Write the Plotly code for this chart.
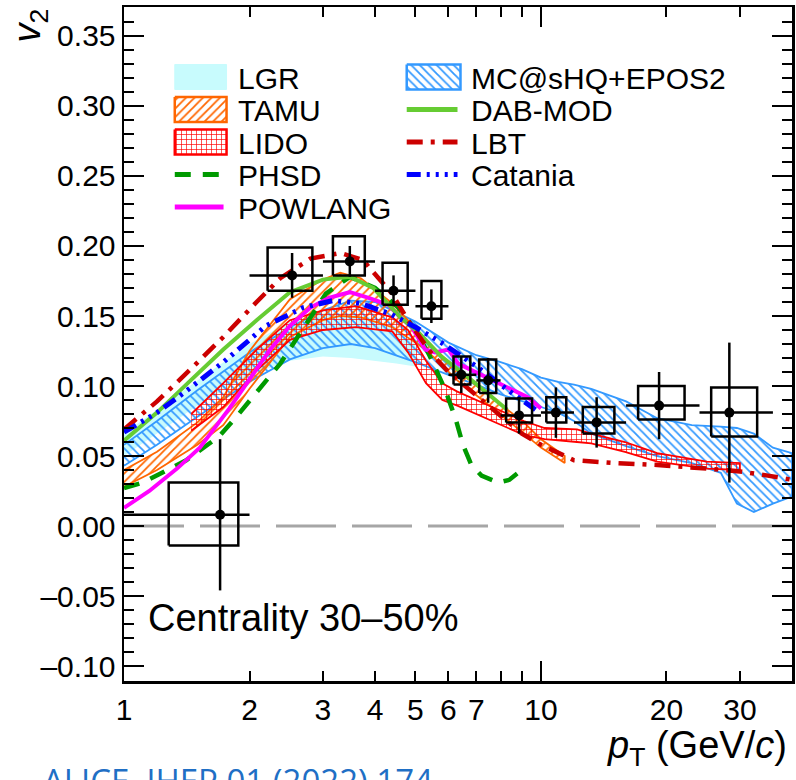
import math
import plotly.graph_objects as go

# ---------------- measured data: ALICE D0 v2, 30-50% ----------------
pt = [1.70, 2.53, 3.48, 4.43, 5.46, 6.44, 7.47, 8.86, 10.86, 13.6, 19.2, 28.3]
v2 = [0.008, 0.179, 0.189, 0.168, 0.157, 0.108, 0.104, 0.079, 0.081, 0.074, 0.086, 0.081]
pt_bin_lo = [1, 2, 3, 4, 5, 6, 7, 8, 10, 12, 16, 24]
pt_bin_hi = [2, 3, 4, 5, 6, 7, 8, 10, 12, 16, 24, 36]
stat_err = [0.054, 0.016, 0.011, 0.011, 0.012, 0.013, 0.016, 0.013, 0.018, 0.018, 0.024, 0.050]
syst_v2_lo = [-0.014, 0.168, 0.179, 0.158, 0.148, 0.101, 0.095, 0.074, 0.074, 0.066, 0.076, 0.064]
syst_v2_hi = [0.031, 0.199, 0.207, 0.188, 0.175, 0.121, 0.119, 0.091, 0.092, 0.085, 0.100, 0.099]
syst_pt_lo = [1.28, 2.21, 3.17, 4.17, 5.17, 6.17, 7.11, 8.25, 10.3, 12.6, 17.1, 25.6]
syst_pt_hi = [1.88, 2.83, 3.78, 4.79, 5.77, 6.77, 7.81, 9.52, 11.5, 15.0, 22.1, 33.0]

# ---------------- model bands ----------------
lgr_pt = [1.0, 1.2, 1.5, 2.0, 2.5, 3.0, 3.5, 4.0, 4.5, 5.0]
lgr_lo = [0.050, 0.066, 0.086, 0.108, 0.118, 0.121, 0.120, 0.118, 0.116, 0.114]
lgr_hi = [0.066, 0.083, 0.104, 0.130, 0.146, 0.152, 0.152, 0.148, 0.140, 0.130]

mcshq_pt = [1.0, 1.2, 1.5, 2.0, 2.5, 3.0, 3.5, 4.0, 5.0, 6.0, 7.0, 8.0, 9.0, 10.0, 11.0,
            12.0, 13.2, 16.0, 19.0, 23.0, 27.0, 29.5, 32.4, 36.0, 40.0]
mcshq_lo = [0.043, 0.058, 0.078, 0.103, 0.119, 0.127, 0.130, 0.127, 0.117, 0.108, 0.101,
            0.094, 0.089, 0.085, 0.081, 0.075, 0.066, 0.057, 0.050, 0.045, 0.038, 0.016,
            0.010, 0.016, 0.021]
mcshq_hi = [0.058, 0.075, 0.097, 0.124, 0.142, 0.154, 0.161, 0.160, 0.146, 0.131, 0.122,
            0.117, 0.112, 0.106, 0.103, 0.101, 0.098, 0.089, 0.077, 0.072, 0.071, 0.070,
            0.066, 0.056, 0.052]

tamu_pt = [1.0, 1.2, 1.5, 1.73, 2.0, 2.5, 3.0, 3.3, 3.7, 4.4, 5.3, 6.3, 7.6, 9.1, 10.0, 11.4]
tamu_lo = [0.028, 0.040, 0.058, 0.072, 0.098, 0.135, 0.147, 0.150, 0.149, 0.142, 0.126,
           0.104, 0.085, 0.066, 0.056, 0.045]
tamu_hi = [0.040, 0.053, 0.074, 0.092, 0.125, 0.162, 0.176, 0.181, 0.177, 0.159, 0.133,
           0.111, 0.092, 0.074, 0.062, 0.050]

lido_pt = [1.45, 1.73, 2.08, 2.5, 3.0, 3.6, 4.4, 4.8, 5.3, 5.8, 6.3, 7.6, 9.1, 10.2, 12.2,
           13.2, 15.9, 19.0, 25.0, 30.0]
lido_lo = [0.068, 0.085, 0.111, 0.133, 0.140, 0.142, 0.139, 0.124, 0.102, 0.090, 0.086,
           0.075, 0.065, 0.062, 0.060, 0.059, 0.053, 0.046, 0.041, 0.040]
lido_hi = [0.080, 0.102, 0.126, 0.147, 0.154, 0.157, 0.149, 0.140, 0.118, 0.102, 0.096,
           0.085, 0.075, 0.070, 0.069, 0.066, 0.060, 0.052, 0.046, 0.045]

# ---------------- model curves ----------------
phsd_pt = [1.0, 1.11, 1.41, 1.69, 1.86, 2.37, 2.8, 3.05, 3.48, 4.0, 4.55, 5.0, 5.4, 5.9,
           6.25, 6.5, 6.8, 7.2, 7.9, 8.4, 8.9]
phsd_v2 = [0.027, 0.031, 0.047, 0.064, 0.078, 0.116, 0.149, 0.166, 0.178, 0.170, 0.156,
           0.140, 0.122, 0.097, 0.076, 0.058, 0.044, 0.036, 0.031, 0.033, 0.039]

powlang_pt = [1.0, 1.15, 1.34, 1.52, 1.79, 2.0, 2.24, 2.5, 2.8, 3.1, 3.48, 3.86, 4.3, 4.6,
              4.9, 5.28, 5.57, 6.0, 6.33, 7.07, 8.34, 9.3, 10.0]
powlang_v2 = [0.013, 0.025, 0.041, 0.056, 0.084, 0.105, 0.126, 0.143, 0.156, 0.163, 0.167,
              0.163, 0.158, 0.149, 0.142, 0.126, 0.124, 0.126, 0.116, 0.109, 0.099, 0.092,
              0.084]

dabmod_pt = [1.0, 1.2, 1.445, 1.73, 2.08, 2.5, 3.0, 3.48, 3.96, 4.6, 5.09, 5.77, 6.7, 7.75, 8.3]
dabmod_v2 = [0.061, 0.081, 0.104, 0.126, 0.147, 0.167, 0.176, 0.178, 0.170, 0.149, 0.138,
             0.121, 0.106, 0.090, 0.083]

lbt_pt = [1.0, 1.2, 1.445, 1.73, 2.08, 2.37, 2.8, 3.3, 3.74, 4.39, 4.82, 5.5, 6.0, 7.0, 8.0,
          9.0, 10.0, 11.0, 12.0, 15.0, 19.0, 25.0, 30.0, 35.0, 40.0]
lbt_v2 = [0.069, 0.089, 0.112, 0.135, 0.160, 0.177, 0.191, 0.195, 0.190, 0.166, 0.146,
          0.122, 0.110, 0.093, 0.078, 0.066, 0.058, 0.052, 0.047, 0.045, 0.0436, 0.041,
          0.039, 0.036, 0.033]

catania_pt = [1.0, 1.2, 1.39, 1.73, 2.19, 2.69, 3.17, 3.7, 4.39, 5.0, 5.77, 7.0, 8.34, 9.7]
catania_v2 = [0.067, 0.081, 0.095, 0.117, 0.143, 0.156, 0.161, 0.159, 0.151, 0.142, 0.131,
              0.114, 0.097, 0.083]

# ---------------- styles ----------------
FONT = "Liberation Sans, Arial, Helvetica, sans-serif"
C_LGR = "#c8fbfd"
C_MC = "#3399ff"
C_TAMU = "#ff6600"
C_LIDO = "#ff0000"
C_PHSD = "#009a00"
C_POW = "#ff00ff"
C_DAB = "#66cc33"
C_LBT = "#cc0000"
C_CAT = "#0000ff"

D_PHSD = "16px,12px"
D_LBT = "16px,8px,4px,8px"
D_CAT = "14px,6px,3px,6px,3px,6px,3px,6px"

PAT_TAMU = dict(shape="/", fgcolor=C_TAMU, bgcolor="rgba(0,0,0,0)", size=6, solidity=0.3, fillmode="replace")
PAT_MC = dict(shape="\\", fgcolor=C_MC, bgcolor="rgba(0,0,0,0)", size=6, solidity=0.3, fillmode="replace")
PAT_LIDO = dict(shape="+", fgcolor=C_LIDO, bgcolor="rgba(0,0,0,0)", size=5, solidity=0.25, fillmode="replace")

fig = go.Figure()


def band(x, lo, hi, color, width, fillcolor=None, pattern=None):
    kw = dict(x=list(x) + list(x)[::-1], y=list(hi) + list(lo)[::-1], mode="lines",
              fill="toself", line=dict(color=color, width=width), showlegend=False,
              hoverinfo="skip")
    if fillcolor is not None:
        kw["fillcolor"] = fillcolor
    if pattern is not None:
        kw["fillpattern"] = pattern
        kw["fillcolor"] = "rgba(0,0,0,0)"
    return go.Scatter(**kw)


def curve(x, y, color, width, dash):
    return go.Scatter(x=x, y=y, mode="lines", line=dict(color=color, width=width, dash=dash),
                      showlegend=False, hoverinfo="skip")


fig.add_trace(band(lgr_pt, lgr_lo, lgr_hi, "rgba(0,0,0,0)", 0, fillcolor=C_LGR))
fig.add_trace(band(mcshq_pt, mcshq_lo, mcshq_hi, C_MC, 1.8, pattern=PAT_MC))
fig.add_trace(band(tamu_pt, tamu_lo, tamu_hi, C_TAMU, 1.8, pattern=PAT_TAMU))
fig.add_trace(band(lido_pt, lido_lo, lido_hi, C_LIDO, 1.8, pattern=PAT_LIDO))
fig.add_trace(curve(phsd_pt, phsd_v2, C_PHSD, 4.5, D_PHSD))
fig.add_trace(curve(powlang_pt, powlang_v2, C_POW, 4, "solid"))
fig.add_trace(curve(dabmod_pt, dabmod_v2, C_DAB, 4, "solid"))
fig.add_trace(curve(lbt_pt, lbt_v2, C_LBT, 4.5, D_LBT))
fig.add_trace(curve(catania_pt, catania_v2, C_CAT, 5, D_CAT))

# systematic boxes
bx, by = [], []
for xl, xh, yl, yh in zip(syst_pt_lo, syst_pt_hi, syst_v2_lo, syst_v2_hi):
    bx += [xl, xh, xh, xl, xl, None]
    by += [yl, yl, yh, yh, yl, None]
fig.add_trace(go.Scatter(x=bx, y=by, mode="lines", line=dict(color="black", width=2.5),
                         showlegend=False, hoverinfo="skip"))

# data points with stat errors and bin widths
fig.add_trace(go.Scatter(
    x=pt, y=v2, mode="markers",
    marker=dict(color="black", size=10, symbol="circle"),
    error_y=dict(type="data", array=stat_err, color="black", thickness=2.5, width=0),
    error_x=dict(type="data", array=[h - p for h, p in zip(pt_bin_hi, pt)],
                 arrayminus=[p - l for p, l in zip(pt, pt_bin_lo)],
                 color="black", thickness=2.5, width=0),
    showlegend=False, hoverinfo="skip"))

# ---------------- custom legend (on a pixel-space overlay axis) ----------------
PLOT_L, PLOT_R, PLOT_T, PLOT_B = 124, 795, 7, 681
leg_entries = [
    # name, column, row, kind, color, extra
    ("LGR", 0, 0, "fill", C_LGR, None),
    ("TAMU", 0, 1, "pattern", C_TAMU, PAT_TAMU),
    ("LIDO", 0, 2, "pattern", C_LIDO, PAT_LIDO),
    ("PHSD", 0, 3, "line", C_PHSD, D_PHSD),
    ("POWLANG", 0, 4, "line", C_POW, "solid"),
    ("MC@sHQ+EPOS2", 1, 0, "pattern", C_MC, PAT_MC),
    ("DAB-MOD", 1, 1, "line", C_DAB, "solid"),
    ("LBT", 1, 2, "line", C_LBT, D_LBT),
    ("Catania", 1, 3, "line", C_CAT, D_CAT),
]
col_sym_x = [175, 408]
col_sym_w = [52, 54]
col_txt_x = [237, 471]
row_y0, row_dy, box_h = 77, 32.5, 25

annotations = []
for name, col, row, kind, color, extra in leg_entries:
    x0 = col_sym_x[col]
    x1 = x0 + col_sym_w[col]
    yc = row_y0 + row * row_dy
    if kind == "line":
        fig.add_trace(go.Scatter(x=[x0, x1 - 3], y=[yc, yc], mode="lines", xaxis="x2", yaxis="y2",
                                 line=dict(color=color, width=5, dash=extra),
                                 showlegend=False, hoverinfo="skip"))
    else:
        ya, yb = yc - box_h / 2, yc + box_h / 2
        kw = dict(x=[x0, x1, x1, x0, x0], y=[ya, ya, yb, yb, ya], mode="lines", fill="toself",
                  xaxis="x2", yaxis="y2", showlegend=False, hoverinfo="skip")
        if kind == "fill":
            kw["fillcolor"] = color
            kw["line"] = dict(color=color, width=1)
        else:
            kw["fillcolor"] = "rgba(0,0,0,0)"
            kw["fillpattern"] = extra
            kw["line"] = dict(color=color, width=2.5)
        fig.add_trace(go.Scatter(**kw))
    annotations.append(dict(x=col_txt_x[col], y=yc + 1, xref="x2", yref="y2", text=name,
                            showarrow=False, xanchor="left", yanchor="middle",
                            font=dict(family=FONT, size=30, color="black")))

# long tick at 10 (overlay axis)
fig.add_trace(go.Scatter(x=[], y=[], xaxis="x3", yaxis="y", showlegend=False, hoverinfo="skip"))


def px2x(px):
    return (px - PLOT_L) / (PLOT_R - PLOT_L)


def py2y(py):
    return (PLOT_B - py) / (PLOT_B - PLOT_T)


annotations += [
    dict(x=px2x(146), y=py2y(618), xref="paper", yref="paper", text="Centrality 30\u201350%",
         showarrow=False, xanchor="left", yanchor="middle",
         font=dict(family=FONT, size=38, color="black")),
    dict(x=px2x(30), y=py2y(6), xref="paper", yref="paper", text="<i>v</i><sub>2</sub>",
         textangle=-90, showarrow=False, xanchor="center", yanchor="top",
         font=dict(family=FONT, size=38, color="black")),
    dict(x=px2x(792), y=py2y(748), xref="paper", yref="paper",
         text="<i>p</i><sub>T</sub> (GeV/<i>c</i>)",
         showarrow=False, xanchor="right", yanchor="middle",
         font=dict(family=FONT, size=38, color="black")),
    dict(x=px2x(41), y=py2y(756), xref="paper", yref="paper",
         text="ALICE, JHEP 01 (2022) 174",
         showarrow=False, xanchor="left", yanchor="top",
         font=dict(family="Open Sans, Noto Sans, sans-serif", size=33, color="#1f6fc5")),
]

x_ticks = [1, 2, 3, 4, 5, 6, 7, 10, 20, 30]
y_ticks = [-0.10, -0.05, 0.00, 0.05, 0.10, 0.15, 0.20, 0.25, 0.30, 0.35]
y_ticktext = [("\u2013" if v < 0 else "") + "%.2f" % abs(v) for v in y_ticks]

x_range = [0, math.log10(40)]
y_range = [-0.1107, 0.3707]

fig.update_layout(
    width=796, height=780,
    margin=dict(l=PLOT_L, r=796 - PLOT_R, t=PLOT_T, b=780 - PLOT_B, pad=0),
    paper_bgcolor="white", plot_bgcolor="rgba(0,0,0,0)",
    showlegend=False,
    font=dict(family=FONT, size=30, color="black"),
    xaxis=dict(type="log", range=x_range, tickmode="array", tickvals=x_ticks,
               ticktext=[str(v) for v in x_ticks], ticks="inside", ticklen=10, tickwidth=2,
               tickcolor="black", showline=True, linewidth=2.5, linecolor="black",
               mirror="ticks", showgrid=False, zeroline=False,
               tickfont=dict(family=FONT, size=30, color="black"),
               minor=dict(tickmode="array", tickvals=[8, 9], ticks="inside", ticklen=10,
                          tickwidth=2, tickcolor="black", showgrid=False)),
    xaxis3=dict(type="log", range=x_range, overlaying="x", anchor="y", tickmode="array",
                tickvals=[10], ticks="inside", ticklen=20, tickwidth=2, tickcolor="black",
                showticklabels=False, showline=False, mirror="ticks", showgrid=False,
                zeroline=False),
    yaxis=dict(range=y_range, tickmode="array", tickvals=y_ticks, ticktext=y_ticktext,
               ticks="inside", ticklen=20, tickwidth=2, tickcolor="black",
               showline=True, linewidth=2.5, linecolor="black", mirror="ticks",
               showgrid=False, zeroline=False,
               tickfont=dict(family=FONT, size=30, color="black"),
               minor=dict(tickmode="linear", tick0=0, dtick=0.01, ticks="inside", ticklen=10,
                          tickwidth=2, tickcolor="black", showgrid=False)),
    xaxis2=dict(range=[PLOT_L, PLOT_R], overlaying="x", anchor="y2", visible=False,
                showgrid=False, zeroline=False),
    yaxis2=dict(range=[PLOT_B, PLOT_T], overlaying="y", anchor="x2", visible=False,
                showgrid=False, zeroline=False),
    shapes=[dict(type="line", xref="paper", x0=0, x1=1, yref="y", y0=0, y1=0,
                 line=dict(color="#a6a6a6", width=3, dash="60px,16px"), layer="below")],
    annotations=annotations,
)

fig.write_html("out.html", config={"displayModeBar": False, "staticPlot": True},
               post_script="document.body.style.margin='0px';document.body.style.overflow='hidden';")
